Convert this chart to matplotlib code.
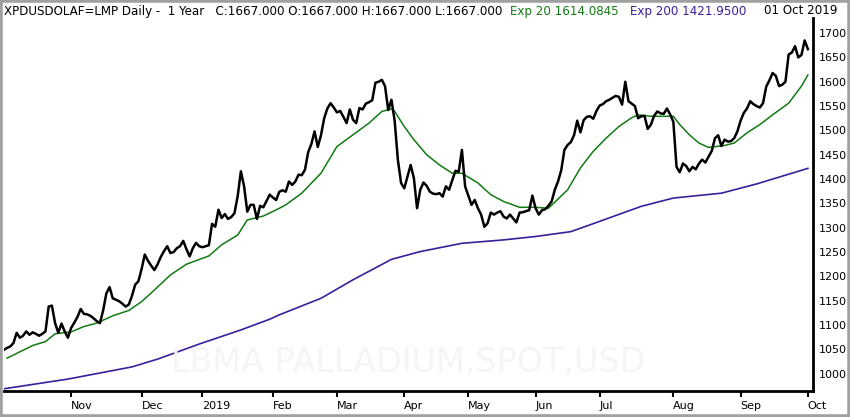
import numpy as np
import pandas as pd
import matplotlib
matplotlib.use("Agg")
from matplotlib import pyplot as plt
from matplotlib.patches import Rectangle

# LBMA palladium spot, daily closes
holidays = ["2018-12-25", "2018-12-26", "2019-01-01", "2019-04-19",
            "2019-04-22", "2019-05-06", "2019-05-27", "2019-08-26"]
first_day = "2018-10-03"
last_day = "2019-10-01"

close = [
    # Oct 2018
    1049, 1053, 1056, 1063, 1084, 1074, 1078, 1087, 1080, 1085, 1082, 1078,
    1082, 1087, 1138, 1140, 1104, 1084, 1103, 1087, 1074,
    # Nov
    1094, 1105, 1117, 1133, 1123, 1122, 1119, 1114, 1108, 1104, 1130, 1165,
    1178, 1155, 1152, 1149, 1144, 1138, 1142, 1160, 1183, 1190,
    # Dec
    1215, 1245, 1232, 1222, 1213, 1225, 1240, 1252, 1262, 1248, 1250, 1258,
    1262, 1273, 1256, 1241, 1258, 1269, 1262,
    # Jan 2019
    1260, 1262, 1264, 1308, 1302, 1337, 1320, 1328, 1318, 1322, 1330, 1365,
    1416, 1385, 1333, 1347, 1347, 1318, 1345, 1342, 1355, 1368,
    # Feb
    1362, 1357, 1374, 1377, 1374, 1395, 1388, 1395, 1409, 1408, 1419, 1455,
    1472, 1498, 1466, 1490, 1525, 1545, 1556, 1547,
    # Mar
    1537, 1540, 1528, 1515, 1543, 1522, 1515, 1546, 1543, 1555, 1558, 1562,
    1598, 1600, 1604, 1591, 1542, 1563, 1520, 1440, 1392,
    # Apr
    1381, 1405, 1429, 1402, 1340, 1378, 1393, 1386, 1374, 1370, 1369, 1371,
    1364, 1385, 1378, 1398, 1417, 1415, 1460, 1385,
    # May
    1366, 1347, 1357, 1340, 1327, 1302, 1309, 1331, 1327, 1331, 1334, 1323,
    1319, 1327, 1319, 1311, 1331, 1332, 1334, 1336, 1366,
    # Jun
    1340, 1327, 1336, 1338, 1345, 1354, 1378, 1395, 1418, 1460, 1470, 1476,
    1490, 1520, 1496, 1521, 1528, 1529, 1524, 1540,
    # Jul
    1551, 1554, 1560, 1563, 1567, 1571, 1569, 1553, 1600, 1560, 1555, 1550,
    1525, 1529, 1530, 1503, 1512, 1530, 1539, 1535, 1534, 1545, 1533,
    # Aug
    1518, 1425, 1414, 1432, 1427, 1416, 1425, 1420, 1432, 1440, 1434, 1446,
    1458, 1484, 1490, 1468, 1481, 1477, 1478, 1484, 1498,
    # Sep
    1520, 1536, 1545, 1560, 1554, 1550, 1547, 1556, 1590, 1603, 1618, 1612,
    1591, 1594, 1600, 1656, 1660, 1673, 1650, 1655, 1685,
    # Oct
    1667,
]

ema20_dates = ["2018-10-04", "2018-10-10", "2018-10-16", "2018-10-22", "2018-10-25",
               "2018-11-01", "2018-11-07", "2018-11-13", "2018-11-20", "2018-11-27",
               "2018-12-03", "2018-12-07", "2018-12-14", "2018-12-21", "2019-01-04",
               "2019-01-10", "2019-01-17", "2019-01-22", "2019-01-29", "2019-02-05",
               "2019-02-07", "2019-02-14", "2019-02-22", "2019-03-01", "2019-03-08",
               "2019-03-15", "2019-03-21", "2019-03-26", "2019-03-27", "2019-04-01",
               "2019-04-04", "2019-04-10", "2019-04-16", "2019-04-24", "2019-04-29",
               "2019-05-07", "2019-05-13", "2019-05-17", "2019-05-24", "2019-06-03",
               "2019-06-07", "2019-06-17", "2019-06-21", "2019-06-27", "2019-07-03",
               "2019-07-09", "2019-07-15", "2019-07-17", "2019-07-23", "2019-07-29",
               "2019-08-01", "2019-08-05", "2019-08-08", "2019-08-13", "2019-08-16",
               "2019-08-23", "2019-08-29", "2019-09-04", "2019-09-10", "2019-09-16",
               "2019-09-23", "2019-09-27", "2019-10-01"]
ema20_values = [1032, 1045, 1058, 1066, 1082, 1086, 1097, 1104, 1119, 1130,
                1148, 1172, 1203, 1225, 1242, 1265, 1285, 1316, 1324, 1340,
                1347, 1371, 1412, 1467, 1491, 1515, 1539, 1544, 1539, 1508,
                1481, 1450, 1429, 1412, 1412, 1392, 1368, 1354, 1342, 1342,
                1340, 1378, 1423, 1457, 1484, 1508, 1526, 1532, 1529, 1529,
                1529, 1512, 1491, 1474, 1465, 1469, 1474, 1495, 1512, 1532,
                1556, 1591, 1614]

ema200_dates = ["2018-10-03", "2018-10-31", "2018-11-28", "2018-12-10", "2018-12-31",
                "2019-01-18", "2019-01-31", "2019-02-05", "2019-02-22", "2019-03-08",
                "2019-03-26", "2019-04-08", "2019-04-29", "2019-05-17", "2019-06-03",
                "2019-06-18", "2019-06-26", "2019-07-18", "2019-08-01", "2019-08-22",
                "2019-09-09", "2019-10-01"]
ema200_values = [969, 989, 1014, 1030, 1061, 1090, 1112, 1121, 1155, 1193,
                 1235, 1251, 1268, 1275, 1282, 1292, 1306, 1344, 1361, 1371,
                 1390, 1422]

y_ticks = list(range(1000, 1701, 50))

GREEN = "#127a12"
PURPLE = "#3a1f9c"

# trading calendar (x axis runs on trading days, like the original)
days = pd.bdate_range("2018-10-01", last_day)
days = days[~days.isin(pd.to_datetime(holidays))]
pos = pd.Series(np.arange(len(days)), index=days)

close_x = pos[pos.index >= first_day].values
ema20_x = pos[pd.to_datetime(ema20_dates)].values
ema200_x = pos[pd.to_datetime(ema200_dates)].values

W, H = 850, 417
fig = plt.figure(figsize=(W / 100, H / 100), dpi=100)
ax = fig.add_axes([4 / W, 1 - 391 / H, (813 - 4) / W, (391 - 18) / H])

ax.plot(ema200_x, ema200_values, color=PURPLE, lw=1.2, zorder=2)
ax.plot(ema20_x, ema20_values, color=GREEN, lw=1.1, zorder=3)
ax.plot(close_x, close, color="black", lw=1.8, zorder=4)

ax.set_xlim(2.05, 254.6)
ax.set_ylim(964.5, 1731)

for s in ["left", "top"]:
    ax.spines[s].set_visible(False)
for s in ["right", "bottom"]:
    ax.spines[s].set_linewidth(2)

ax.yaxis.tick_right()
ax.set_yticks(y_ticks)
ax.tick_params(axis="y", length=0, pad=4, labelsize=8)

# month ticks at first trading day of each month
month_first = pd.Series(days).groupby([days.year, days.month]).first()
month_first = month_first[month_first >= pd.Timestamp("2018-11-01")]
xt = pos[pd.DatetimeIndex(month_first.values)].values
xl = [d.strftime("%Y") if d.month == 1 else d.strftime("%b") for d in month_first]
ax.set_xticks(xt)
ax.set_xticklabels(xl, ha="left")
ax.tick_params(axis="x", length=4.5, width=1.5, pad=3, labelsize=8)

# faint watermark
fig.text(408 / W, 1 - 363 / H, "LBMA PALLADIUM,SPOT,USD", fontsize=24,
         color="#f5f5f5", ha="center", va="center", zorder=0)

# header
hy = 1 - 11 / H
fig.text(4 / W, hy, "XPDUSDOLAF=LMP Daily -  1 Year   C:1667.000 O:1667.000 "
         "H:1667.000 L:1667.000", fontsize=8.6, va="center", color="black")
fig.text(510 / W, hy, "Exp 20 1614.0845", fontsize=8.6, va="center", color=GREEN)
fig.text(630 / W, hy, "Exp 200 1421.9500", fontsize=8.6, va="center", color=PURPLE)
fig.text(838 / W, hy, "01 Oct 2019", fontsize=8.6, va="center", ha="right", color="black")

# grey outer frame
fig.patches.append(Rectangle((0, 0), 1, 1, transform=fig.transFigure, fill=False,
                             edgecolor="#a0a0a0", lw=4))

fig.savefig("out.png", dpi=100)
